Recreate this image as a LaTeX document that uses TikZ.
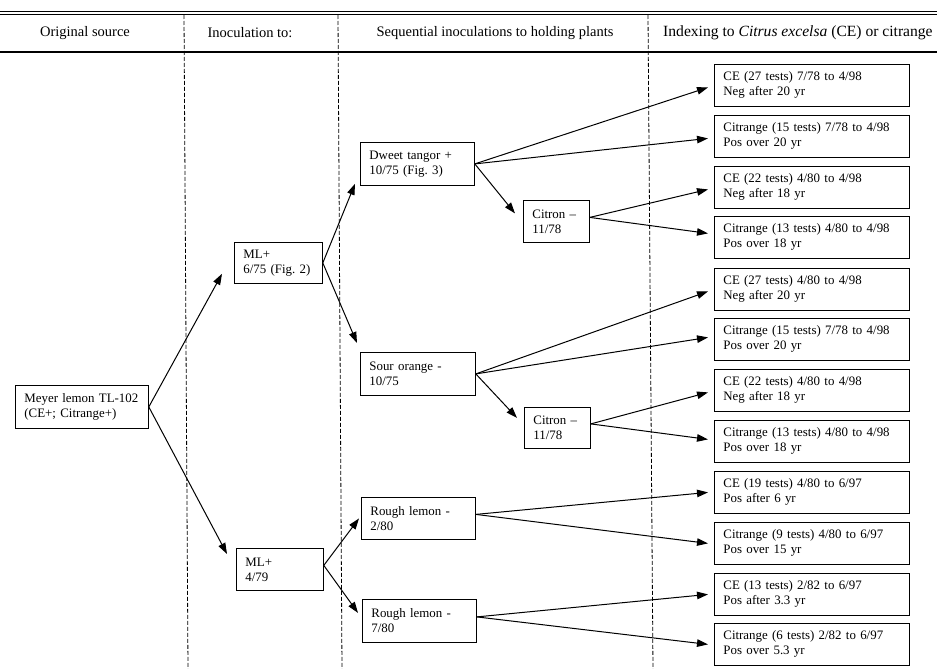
\documentclass[tikz,border=0pt]{standalone}
\usepackage{fontspec}
\setmainfont{Liberation Serif}
\usetikzlibrary{arrows.meta}
\frenchspacing
\begin{document}
\begin{tikzpicture}[x=1pt,y=-1pt,
  bx/.style 2 args={draw, line width=0.8pt, anchor=north west, align=left,
    inner xsep=9pt, inner ysep=0pt, text width=#1pt, minimum height=#2pt,
    font=\fontsize{12.9}{15}\selectfont},
  hd/.style={inner sep=0pt, font=\fontsize{14.5}{17}\selectfont},
  dv/.style={line width=0.8pt, dash pattern=on 4pt off 2pt},
  ar/.style={line width=1pt, -{Triangle[length=11pt,width=7.5pt]}}
]
\useasboundingbox (0,0) rectangle (937,669);
% rules
\draw[line width=0.5pt] (0,11) -- (937,11);
\draw[line width=1.5pt] (0,14.5) -- (937,14.5);
\draw[line width=1.2pt] (0,52) -- (937,52);
% column dividers
\draw[dv] (184,15) -- (188,669);
\draw[dv] (338,15) -- (342,669);
\draw[dv] (648,15) -- (653,669);
% headers
\node[hd] (h1) at (85,33) {Original source};
\node[hd] (h2) at (250,33) {Inoculation to:};
\node[hd] (h3) at (495,33) {Sequential inoculations to holding plants};
\node[hd, anchor=west, font=\fontsize{15.6}{18}\selectfont] (h4) at (663,33) {Indexing to \textit{Citrus excelsa} (CE) or citrange};
% left nodes
\node[bx={115}{43}] (meyer) at (15,385) {Meyer lemon TL-102\\(CE+; Citrange+)};
\node[bx={70}{41}] (ml1) at (234,242) {ML+\\6/75 (Fig. 2)};
\node[bx={69}{42}] (ml2) at (236,548) {ML+\\4/79};
\node[bx={96}{43}] (dweet) at (360,142) {Dweet tangor +\\10/75 (Fig. 3)};
\node[bx={48}{42}] (cit1) at (523,200) {Citron –\\11/78};
\node[bx={97}{43}] (sour) at (360,352) {Sour orange -\\10/75};
\node[bx={48}{41}] (cit2) at (524,407) {Citron –\\11/78};
\node[bx={96}{42}] (rl1) at (361,497) {Rough lemon -\\2/80};
\node[bx={96}{43}] (rl2) at (362,599) {Rough lemon -\\7/80};
% right boxes
\node[bx={177}{42}] (r1) at (714,64) {CE (27 tests) 7/78 to 4/98\\Neg after 20 yr};
\node[bx={177}{42}] (r2) at (714,115) {Citrange (15 tests) 7/78 to 4/98\\Pos over 20 yr};
\node[bx={177}{42}] (r3) at (714,166) {CE (22 tests) 4/80 to 4/98\\Neg after 18 yr};
\node[bx={177}{42}] (r4) at (714,216) {Citrange (13 tests) 4/80 to 4/98\\Pos over 18 yr};
\node[bx={177}{42}] (r5) at (714,268) {CE (27 tests) 4/80 to 4/98\\Neg after 20 yr};
\node[bx={177}{42}] (r6) at (714,318) {Citrange (15 tests) 7/78 to 4/98\\Pos over 20 yr};
\node[bx={177}{42}] (r7) at (714,369) {CE (22 tests) 4/80 to 4/98\\Neg after 18 yr};
\node[bx={177}{42}] (r8) at (714,420) {Citrange (13 tests) 4/80 to 4/98\\Pos over 18 yr};
\node[bx={177}{42}] (r9) at (714,471) {CE (19 tests) 4/80 to 6/97\\Pos after 6 yr};
\node[bx={177}{42}] (r10) at (714,522) {Citrange (9 tests) 4/80 to 6/97\\Pos over 15 yr};
\node[bx={177}{42}] (r11) at (714,573) {CE (13 tests) 2/82 to 6/97\\Pos after 3.3 yr};
\node[bx={177}{42}] (r12) at (714,623) {Citrange (6 tests) 2/82 to 6/97\\Pos over 5.3 yr};
% connectors
\draw[ar] (meyer.east) -- ([xshift=-12pt,yshift=10pt]ml1.south west);
\draw[ar] (meyer.east) -- ([xshift=-9pt,yshift=-6pt]ml2.north west);
\draw[ar] (ml1.east) -- ([xshift=-5pt,yshift=2pt]dweet.south west);
\draw[ar] (ml1.east) -- ([xshift=-3pt,yshift=9pt]sour.north west);
\draw[ar] ([yshift=4pt]ml2.east) -- ([xshift=-2pt]rl1.west);
\draw[ar] ([yshift=4pt]ml2.east) -- ([xshift=-4pt,yshift=8pt]rl2.west);
\draw[ar] (dweet.east) -- ([xshift=-8pt,yshift=8pt]cit1.west);
\draw[ar] (sour.east) -- ([xshift=-7pt,yshift=10pt]cit2.west);
\draw[ar] (dweet.east) -- ([xshift=-6pt,yshift=-2pt]r1.west);
\draw[ar] (dweet.east) -- ([xshift=-6pt,yshift=-2pt]r2.west);
\draw[ar] ([yshift=4pt]cit1.east) -- ([xshift=-6pt,yshift=-2pt]r3.west);
\draw[ar] ([yshift=4pt]cit1.east) -- ([xshift=-6pt,yshift=4pt]r4.west);
\draw[ar] (sour.east) -- ([xshift=-6pt,yshift=-2pt]r5.west);
\draw[ar] (sour.east) -- ([xshift=-6pt,yshift=2pt]r6.west);
\draw[ar] ([yshift=4pt]cit2.east) -- ([xshift=-6pt,yshift=-2pt]r7.west);
\draw[ar] ([yshift=4pt]cit2.east) -- ([xshift=-6pt,yshift=2pt]r8.west);
\draw[ar] ([yshift=4pt]rl1.east) -- ([xshift=-6pt]r9.west);
\draw[ar] ([yshift=4pt]rl1.east) -- ([xshift=-6pt]r10.west);
\draw[ar] ([yshift=4pt]rl2.east) -- ([xshift=-6pt]r11.west);
\draw[ar] ([yshift=4pt]rl2.east) -- ([xshift=-6pt]r12.west);
\end{tikzpicture}
\end{document}
